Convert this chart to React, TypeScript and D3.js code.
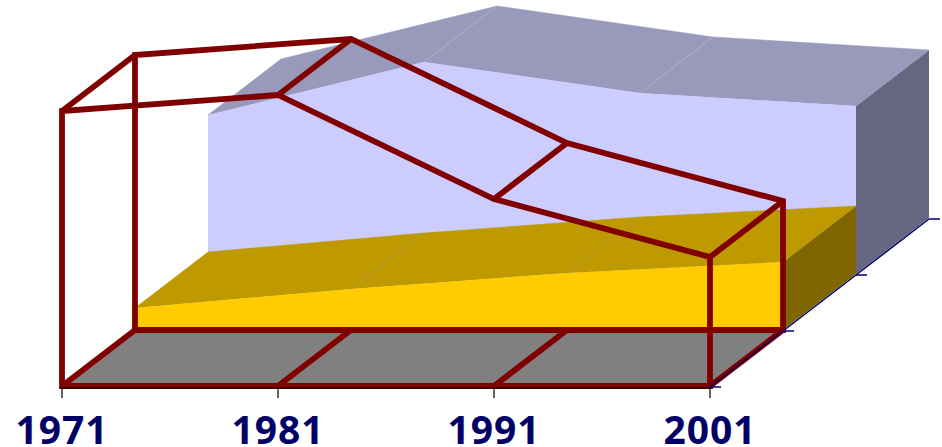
import React from 'react';
import * as d3 from 'd3';

const years = ['1971', '1981', '1991', '2001'];
// back to front in the drawing order
const thirdSeries = [159, 212, 181, 168];
const secondSeries = [22, 41, 57, 68];
const firstSeries = [275, 291, 187, 129];
const depthTicks = [0, 1, 2, 3];

const width = 942;
const height = 447;

const x = d3.scalePoint<string>().domain(years).range([62, 710]);
const depthX = d3.scaleLinear().domain([0, 3]).range([0, 219]);
const depthY = d3.scaleLinear().domain([0, 3]).range([386, 218]);
const valueY = d3.scaleLinear().domain([0, 300]).range([0, 300]);

type P = [number, number];

// screen position of a value at a given category and depth slot
const pt = (year: string, depth: number, value: number): P => [
  (x(year) as number) + depthX(depth),
  depthY(depth) - valueY(value),
];

const line = d3.line<P>();
const poly = (pts: P[]) => line(pts) + 'Z';

const frontFace = (values: number[], depth: number): P[] => [
  pt(years[0], depth, 0),
  ...years.map((y, i) => pt(y, depth, values[i])),
  pt(years[years.length - 1], depth, 0),
];

function Solid({ values, depth, front, top, side, seam }: {
  values: number[]; depth: number; front: string; top: string; side: string; seam: string;
}) {
  const last = years.length - 1;
  return (
    <g>
      <path
        d={poly([
          pt(years[last], depth, 0),
          pt(years[last], depth + 1, 0),
          pt(years[last], depth + 1, values[last]),
          pt(years[last], depth, values[last]),
        ])}
        fill={side}
      />
      {years.slice(0, last).map((y, i) => (
        <path
          key={y}
          d={poly([
            pt(y, depth, values[i]),
            pt(y, depth + 1, values[i]),
            pt(years[i + 1], depth + 1, values[i + 1]),
            pt(years[i + 1], depth, values[i + 1]),
          ])}
          fill={top}
          stroke={top}
          strokeWidth={0.5}
        />
      ))}
      {years.slice(1, last).map((y) => {
        const i = years.indexOf(y);
        return (
          <path
            key={y}
            d={line([pt(y, depth, values[i]), pt(y, depth + 1, values[i])]) as string}
            stroke={seam}
            strokeWidth={0.7}
            fill="none"
          />
        );
      })}
      <path d={poly(frontFace(values, depth))} fill={front} />
    </g>
  );
}

export default function App() {
  const wire = '#800000';
  const navy = '#000066';
  const base0 = pt(years[0], 0, 0);
  return (
    <svg
      width={width}
      height={height}
      viewBox={`0 0 ${width} ${height}`}
      style={{ position: 'absolute', left: 0, top: 0, background: '#fff' }}
    >
      {/* floor under the first series */}
      <path
        d={poly([
          pt(years[0], 0, 0),
          pt(years[3], 0, 0),
          pt(years[3], 1, 0),
          pt(years[0], 1, 0),
        ])}
        fill="#808080"
      />

      <Solid values={thirdSeries} depth={2} front="#CCCCFF" top="#9999BB" side="#666680" seam="#B4B4D2" />
      <Solid values={secondSeries} depth={1} front="#FFCC00" top="#BF9900" side="#806600" seam="#A89A50" />

      {/* first series has no fill, only the dark red outline */}
      <g fill="none" stroke={wire} strokeWidth={5.8} strokeLinejoin="miter">
        <path d={poly(frontFace(firstSeries, 1))} />
        <path d={poly(frontFace(firstSeries, 0))} />
        {years.map((y, i) => (
          <g key={y}>
            <path d={line([pt(y, 0, firstSeries[i]), pt(y, 1, firstSeries[i])]) as string} />
            <path d={line([pt(y, 0, 0), pt(y, 1, 0)]) as string} />
          </g>
        ))}
      </g>

      {/* category axis */}
      <path
        d={line([[base0[0], base0[1] + 2], [pt(years[3], 0, 0)[0], base0[1] + 2]]) as string}
        stroke="#000"
        strokeWidth={1.2}
      />
      {years.map((y) => (
        <g key={y}>
          <line x1={x(y)} x2={x(y)} y1={base0[1] + 2} y2={base0[1] + 12} stroke="#000" strokeWidth={1.2} />
          <text
            x={x(y)}
            y={443.5}
            textAnchor="middle"
            fontFamily="'Open Sans', sans-serif"
            fontWeight="bold"
            fontSize={39}
            letterSpacing={1}
            fill={navy}
          >
            {y}
          </text>
        </g>
      ))}

      {/* depth axis */}
      <path
        d={line(depthTicks.map((d) => [(x(years[3]) as number) + depthX(d), depthY(d) + 1] as P)) as string}
        stroke={navy}
        strokeWidth={1.5}
        fill="none"
      />
      {depthTicks.map((d) => {
        const px = (x(years[3]) as number) + depthX(d);
        return (
          <line key={d} x1={px} x2={px + 11} y1={depthY(d) + 1} y2={depthY(d) + 1} stroke={navy} strokeWidth={1.5} />
        );
      })}
    </svg>
  );
}
